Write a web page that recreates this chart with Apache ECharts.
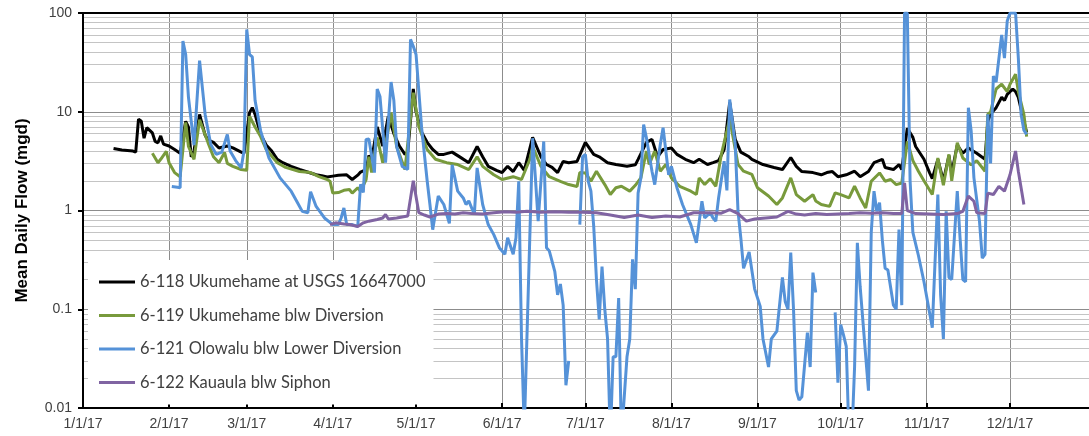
<!DOCTYPE html>
<html>
<head>
<meta charset="utf-8">
<script src="https://cdn.jsdelivr.net/npm/echarts@6/dist/echarts.min.js"></script>
<style>
  html, body { margin: 0; padding: 0; background: #fff; }
  #chart { width: 1089px; height: 436px; }
</style>
</head>
<body>
<div id="chart"></div>
<script>
// Day offsets from 1/1/17 and mean daily flow (mgd).
const s118 = [[11,4.25],[14,4.1],[18,4.0],[19,3.9],[20,8.4],[21,8.0],[22,5.4],[23,6.9],[25,6.1],[26,5.0],[27,4.85],[28,5.7],[29,4.7],[31,4.5],[33,4.15],[35,3.8],[37,8.0],[38,7.0],[39,3.5],[40,4.0],[42,9.4],[44,5.8],[45,5.2],[47,4.9],[49,4.3],[52,4.5],[54,4.3],[57,3.9],[58,3.8],[60,9.8],[61,11],[62,9.4],[64,5.9],[66,4.6],[68,4.0],[70,3.3],[72,3.05],[75,2.8],[78,2.6],[80,2.5],[82,2.4],[84,2.3],[86,2.25],[88,2.18],[90,2.23],[92,2.28],[95,2.3],[97,2.06],[99,2.28],[100,2.45],[102,2.6],[103,3.6],[104,3.3],[106,7.0],[108,4.5],[110,9.0],[112,6.0],[114,4.5],[116,3.7],[117,3.9],[119,17],[120,10],[122,6.2],[124,4.9],[126,4.15],[128,3.7],[130,3.7],[133,3.9],[136,3.45],[139,3.05],[142,4.45],[144,3.5],[146,2.8],[149,2.55],[151,2.42],[153,2.8],[155,2.48],[157,3.05],[159,2.55],[160,3.3],[162,5.5],[165,3.5],[167,2.92],[169,2.73],[171,2.42],[173,3.14],[175,3.05],[178,3.14],[181,4.9],[184,3.7],[186,3.5],[189,3.05],[192,2.92],[196,2.8],[199,2.9],[200,3.3],[203,4.9],[205,5.25],[207,3.5],[209,4.15],[212,4.3],[214,3.7],[217,3.3],[220,3.05],[222,3.3],[225,2.92],[227,3.05],[229,3.2],[231,4.15],[233,12.4],[235,5.25],[237,3.9],[240,3.5],[241,3.3],[245,2.92],[249,2.73],[252,2.6],[255,3.44],[257,2.8],[259,2.48],[263,2.42],[266,2.3],[268,2.42],[270,2.48],[272,2.2],[275,2.3],[278,2.5],[280,2.2],[283,2.48],[285,3.05],[288,3.3],[289,2.73],[292,2.6],[294,2.92],[295,2.6],[297,6.8],[299,5.5],[300,4.45],[303,3.3],[305,2.42],[306,2.1],[308,3.3],[310,2.0],[312,3.6],[313,2.4],[315,4.6],[317,3.8],[319,4.3],[322,3.8],[325,3.3],[326,8.0],[327,9.5],[329,11],[331,14],[332,13],[333,15],[335,17],[336,16],[337,14],[339,8.0],[340,6.2]];

const s119 = [[25,3.8],[27,3.05],[28,3.3],[30,3.96],[31,3.05],[33,2.42],[35,2.2],[37,7.8],[38,4.45],[40,3.3],[42,8.3],[45,4.9],[47,3.5],[49,3.05],[51,3.87],[52,3.0],[54,2.8],[57,2.6],[59,2.55],[60,9.0],[62,7.0],[64,5.6],[66,4.15],[70,3.05],[73,2.73],[78,2.48],[82,2.42],[85,2.2],[88,2.06],[89,1.98],[90,1.5],[92,1.52],[94,1.6],[96,1.63],[97,1.5],[99,1.7],[100,1.56],[102,2.06],[103,3.5],[104,2.42],[106,5.5],[108,3.05],[111,9.8],[113,4.45],[116,2.6],[119,15.6],[121,7.1],[124,4.15],[127,3.3],[131,3.05],[135,2.92],[139,2.6],[142,3.5],[144,2.8],[148,2.3],[151,2.06],[155,2.2],[158,2.06],[161,3.3],[162,4.45],[165,2.8],[168,2.2],[172,1.97],[175,1.83],[178,1.75],[179,2.42],[181,2.4],[183,1.98],[185,2.5],[188,1.83],[190,1.45],[192,1.7],[194,1.76],[197,1.57],[199,1.8],[201,2.14],[203,4.0],[204,2.93],[206,4.0],[208,2.5],[210,2.93],[212,2.14],[215,1.76],[219,1.57],[221,1.45],[222,2.14],[224,1.83],[226,2.1],[228,1.76],[230,3.7],[232,6.4],[233,8.5],[236,2.93],[238,2.5],[241,2.32],[243,1.7],[247,1.4],[250,1.15],[252,1.34],[255,2.14],[257,1.45],[260,1.24],[263,1.45],[264,1.25],[266,1.15],[269,1.1],[271,1.51],[273,1.45],[276,1.34],[278,1.76],[280,1.34],[282,1.06],[284,1.98],[287,2.4],[289,1.98],[291,2.06],[293,1.83],[295,1.9],[297,5.0],[299,3.2],[301,2.5],[303,2.0],[306,1.45],[308,3.4],[310,1.8],[312,3.7],[313,2.0],[315,4.85],[317,3.4],[320,2.9],[322,3.2],[325,2.5],[326,9.4],[327,10],[329,17],[331,19],[333,16],[334,19],[336,24],[337,16],[339,9.4],[340,5.6]];

const s121 = [[32,1.75],[34,1.72],[35,1.7],[36,52],[37,38],[38,14],[40,4.6],[42,33],[44,9.4],[46,4.7],[48,3.7],[50,3.9],[52,5.9],[53,4.0],[55,3.2],[57,2.7],[58,4.0],[59,68],[60,38],[61,36],[62,13],[64,6.4],[67,3.4],[71,2.14],[75,1.57],[77,1.24],[79,0.98],[81,0.95],[82,1.55],[84,1.1],[87,0.84],[90,0.72],[92,0.72],[93,0.84],[94,1.06],[95,0.72],[97,0.72],[99,0.69],[100,1.84],[101,1.52],[102,5.25],[103,5.3],[105,2.42],[106,17],[107,14.3],[109,3.06],[111,20],[112,13],[113,4.45],[115,2.8],[117,2.6],[118,54],[119,46],[120,38],[122,6.9],[124,2.0],[125,1.15],[126,0.64],[128,1.4],[130,1.15],[132,0.74],[133,2.9],[135,1.57],[137,1.34],[138,1.15],[139,1.25],[141,0.91],[142,2.7],[144,1.15],[146,0.72],[148,0.57],[150,0.42],[152,0.36],[153,0.53],[155,0.36],[156,0.53],[157,1.98],[158,0.05],[159,0.006],[162,5.4],[163,2.14],[164,0.78],[166,5.0],[167,0.42],[168,0.39],[170,0.24],[171,0.14],[172,0.18],[173,0.11],[174,0.017],[175,0.03],[176,null],[179,0.72],[180,3.5],[181,3.7],[182,2.0],[183,1.57],[184,0.7],[185,0.2],[186,0.079],[187,0.27],[188,0.1],[189,0.05],[190,0.005],[191,0.033],[192,0.033],[193,0.13],[194,0.005],[196,0.033],[197,0.05],[198,0.32],[199,0.16],[200,1.5],[201,2.14],[202,7.4],[203,5.45],[205,2.5],[206,1.83],[208,4.67],[209,6.9],[210,4.0],[211,2.3],[212,2.8],[214,1.7],[216,1.15],[219,0.72],[221,0.47],[223,1.24],[224,0.84],[226,0.95],[227,0.84],[228,0.78],[229,1.34],[231,3.16],[232,1.6],[233,13.3],[234,8.0],[235,4.67],[236,0.98],[237,0.53],[238,0.26],[240,0.38],[242,0.16],[244,0.107],[245,0.05],[247,0.026],[248,0.05],[250,0.06],[252,0.21],[253,0.12],[254,0.1],[255,0.375],[256,0.1],[257,0.015],[258,0.012],[259,0.013],[261,0.058],[262,0.026],[263,0.235],[264,0.148],[265,null],[271,0.093],[272,0.018],[273,0.07],[274,0.055],[275,0.042],[276,0.005],[277,0.005],[278,0.026],[279,0.47],[280,0.17],[283,0.015],[284,0.6],[285,1.57],[286,0.98],[287,1.2],[288,0.5],[289,0.26],[290,0.25],[292,0.11],[293,0.1],[294,0.64],[295,0.11],[296,100],[297,100],[298,2.0],[299,0.6],[301,0.35],[303,0.19],[306,0.065],[308,1.45],[309,0.14],[310,0.05],[311,0.98],[312,0.21],[313,0.2],[315,1.57],[316,0.53],[317,0.2],[318,0.19],[319,11],[320,6.4],[321,2.14],[323,0.78],[324,0.33],[325,0.36],[326,9.4],[327,3.0],[328,23],[329,20],[331,60],[332,35],[333,83],[334,100],[336,100],[337,35],[338,9.4],[339,6.5],[340,5.9]];

const s122 = [[89,0.72],[91,0.75],[94,0.73],[96,0.72],[99,0.69],[101,0.75],[103,0.78],[106,0.81],[108,0.84],[109,0.91],[110,0.82],[113,0.84],[115,0.86],[117,0.88],[119,2.0],[121,0.95],[123,0.9],[125,0.86],[128,0.92],[131,0.93],[134,0.92],[137,0.95],[140,0.93],[144,0.92],[148,0.95],[152,0.97],[156,0.96],[160,0.98],[165,0.96],[170,0.97],[175,0.96],[180,0.96],[185,0.95],[190,0.9],[195,0.85],[200,0.9],[205,0.85],[210,0.88],[215,0.86],[220,0.95],[225,0.95],[230,0.94],[233,1.02],[236,0.93],[239,0.78],[242,0.82],[246,0.84],[250,0.86],[254,0.98],[257,0.92],[260,0.9],[264,0.93],[268,0.91],[272,0.92],[276,0.93],[280,0.95],[284,0.94],[288,0.95],[292,0.93],[295,0.93],[296,1.9],[297,1.0],[300,0.93],[305,0.92],[310,0.91],[315,0.93],[317,0.98],[319,1.4],[321,1.24],[322,0.95],[325,0.93],[326,1.5],[328,1.45],[330,1.76],[332,1.57],[334,2.3],[336,4.0],[337,2.5],[339,1.15]];

const seriesNames = ['6-118 Ukumehame at USGS 16647000', '6-119 Ukumehame blw Diversion', '6-121 Olowalu blw Lower Diversion', '6-122 Kauaula blw Siphon'];
const monthLabels = ['1/1/17','2/1/17','3/1/17','4/1/17','5/1/17','6/1/17','7/1/17','8/1/17','9/1/17','10/1/17','11/1/17','12/1/17'];
const yTickLabels = {'-2':'0.01','-1':'0.1','0':'1','1':'10','2':'100'};
const minorGridValues = [];
[0.01, 0.1, 1, 10].forEach(function (dec) { for (let k = 2; k <= 9; k++) minorGridValues.push(+(dec * k).toPrecision(3)); });

const DAY = 86400000;
const toPts = arr => arr.map(p => [new Date(2017, 0, 1 + p[0]).getTime(), p[1]]);
const xMin = new Date(2017, 0, 1).getTime();
const xMax = xMin + 362.46 * DAY;

const colors = ['#000000', '#789A3C', '#5592D8', '#8064A2'];
const datasets = [s118, s119, s121, s122];

const chart = echarts.init(document.getElementById('chart'), null, { renderer: 'canvas' });

const series = [{
  name: 'grid-minor', type: 'line', data: [], silent: true, animation: false, z: 0,
  markLine: {
    silent: true, symbol: 'none', animation: false, label: { show: false }, z: 0,
    lineStyle: { color: '#c4c4c4', width: 1, type: 'solid' },
    data: minorGridValues.map(v => ({ yAxis: v }))
  }
}];
datasets.forEach(function (d, i) {
  series.push({
    name: seriesNames[i], type: 'line', data: toPts(d), showSymbol: false, symbol: 'none',
    connectNulls: false, clip: true, animation: false,
    lineStyle: { color: colors[i], width: 3 }, itemStyle: { color: colors[i] }
  });
});

chart.setOption({
  backgroundColor: '#fff',
  animation: false,
  grid: { left: 83, right: 0, top: 13, bottom: 28, containLabel: false },
  legend: {
    data: seriesNames, orient: 'vertical', left: 88, top: 260, z: 10,
    backgroundColor: '#ffffff', padding: [12, 8, 12, 11], itemGap: 13.5,
    itemWidth: 36, itemHeight: 3, icon: 'rect',
    textStyle: { fontFamily: 'Lato', fontSize: 16.5, color: '#404040', lineHeight: 20 }
  },
  xAxis: [{
    type: 'time', min: xMin, max: xMax, splitNumber: 12,
    minInterval: 28 * DAY, maxInterval: 31 * DAY,
    axisLine: { show: true, onZero: false, lineStyle: { color: '#000', width: 2 } },
    axisTick: { show: true, inside: true, length: 5, lineStyle: { color: '#000', width: 2 } },
    splitLine: { show: true, lineStyle: { color: '#8c8c8c', width: 1 } },
    axisLabel: {
      margin: 9, color: '#404040', fontSize: 14, fontFamily: 'Liberation Sans', hideOverlap: false,
      formatter: function (v) {
        const d = new Date(v);
        if (d.getFullYear() !== 2017 || d.getDate() !== 1 || d.getHours() !== 0) return '';
        return monthLabels[d.getMonth()];
      }
    }
  }, {
    type: 'time', position: 'top', min: xMin, max: xMax,
    axisLine: { show: true, onZero: false, lineStyle: { color: '#000', width: 2 } },
    axisTick: { show: false }, axisLabel: { show: false }, splitLine: { show: false }
  }],
  yAxis: {
    type: 'log', logBase: 10, min: 0.01, max: 100,
    name: 'Mean Daily Flow (mgd)', nameLocation: 'middle', nameGap: 52, nameRotate: 90,
    nameTextStyle: { fontFamily: 'Liberation Sans', fontSize: 17, fontWeight: 'bold', color: '#000' },
    axisLine: { show: true, lineStyle: { color: '#000', width: 2 } },
    axisTick: { show: true, inside: false, length: 5, lineStyle: { color: '#000', width: 2 } },
    splitLine: { show: true, lineStyle: { color: '#8c8c8c', width: 1 } },
    minorTick: { show: false }, minorSplitLine: { show: false },
    axisLabel: {
      margin: 11, color: '#404040', fontSize: 14, fontFamily: 'Liberation Sans',
      formatter: function (v) { return yTickLabels[String(Math.round(Math.log10(v)))] || ''; }
    }
  },
  series: series
});
</script>
</body>
</html>
